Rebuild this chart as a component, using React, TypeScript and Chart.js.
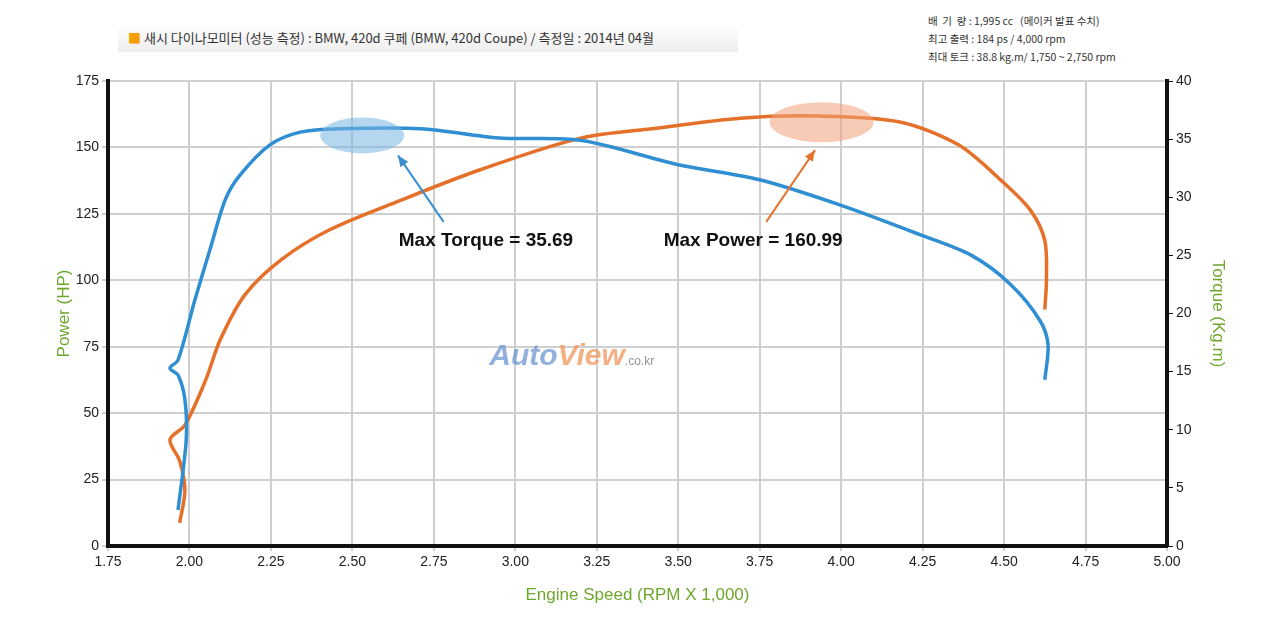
import React, { useEffect, useRef } from "react";
import { Chart, registerables } from "chart.js";
Chart.register(...registerables);

const torqueRpm = [1.965,1.99,1.986,1.965,1.94,1.965,2.017,2.063,2.11,2.155,2.247,2.34,2.46,2.71,2.95,3.2,3.5,3.75,4.0,4.24,4.4,4.52,4.61,4.635,4.625];
const torqueVal = [3.1,9.1,12.6,14.7,15.3,16.0,21.2,25.5,29.8,31.9,34.5,35.6,35.9,35.9,35.1,34.9,32.8,31.5,29.3,26.8,25.0,22.5,19.4,17.3,14.3];
const powerRpm = [1.97,1.986,1.97,1.94,1.986,2.05,2.094,2.17,2.28,2.43,2.646,2.89,3.2,3.44,3.69,3.93,4.18,4.36,4.49,4.58,4.625,4.63,4.625];
const powerVal = [8.7,21,32,40,45.5,62.5,77.5,94.5,107.6,119,130,141.5,153.5,157.3,161,161.8,159.6,151,137.7,126.5,115,100,89];
const headerText = "새시 다이나모미터 (성능 측정)  :  BMW, 420d 쿠페 (BMW, 420d Coupe) / 측정일 : 2014년 04월";
const specLines = ["배  기  량 : 1,995 cc   (메이커 발표 수치)", "최고 출력 : 184 ps / 4,000 rpm", "최대 토크 : 38.8 kg.m/ 1,750 ~ 2,750 rpm"];

const annot = {
  id: "annot",
  afterDatasetsDraw(chart: any) {
    const { ctx, scales } = chart;
    const X = (v: number) => scales.x.getPixelForValue(v);
    const Y = (v: number) => scales.y.getPixelForValue(v);
    ctx.save();
    ctx.font = "italic bold 30px Arial";
    ctx.textBaseline = "alphabetic";
    ctx.fillStyle = "rgba(110,150,210,0.75)";
    ctx.fillText("Auto", X(2.92), Y(68));
    const w = ctx.measureText("Auto").width;
    ctx.fillStyle = "rgba(240,150,90,0.75)";
    ctx.fillText("View", X(2.92) + w, Y(68));
    const w2 = ctx.measureText("View").width;
    ctx.font = "12px Arial";
    ctx.fillStyle = "rgba(120,120,120,0.8)";
    ctx.fillText(".co.kr", X(2.92) + w + w2, Y(68));
    ctx.fillStyle = "rgba(120,180,225,0.55)";
    ctx.beginPath(); ctx.ellipse(X(2.53), Y(154.5), 42, 18, 0, 0, Math.PI * 2); ctx.fill();
    ctx.fillStyle = "rgba(240,160,120,0.55)";
    ctx.beginPath(); ctx.ellipse(X(3.94), Y(159.5), 52, 20, 0, 0, Math.PI * 2); ctx.fill();
    const arrow = (x1: number, y1: number, x2: number, y2: number, c: string) => {
      ctx.strokeStyle = c; ctx.fillStyle = c; ctx.lineWidth = 2;
      ctx.beginPath(); ctx.moveTo(x1, y1); ctx.lineTo(x2, y2); ctx.stroke();
      const a = Math.atan2(y2 - y1, x2 - x1);
      ctx.beginPath(); ctx.moveTo(x2, y2);
      ctx.lineTo(x2 - 12 * Math.cos(a - 0.4), y2 - 12 * Math.sin(a - 0.4));
      ctx.lineTo(x2 - 12 * Math.cos(a + 0.4), y2 - 12 * Math.sin(a + 0.4));
      ctx.closePath(); ctx.fill();
    };
    arrow(X(2.78), Y(122), X(2.64), Y(147), "#3a8fd0");
    arrow(X(3.77), Y(122), X(3.92), Y(149), "#e5742e");
    ctx.font = "bold 19px Arial";
    ctx.fillStyle = "#111";
    ctx.textAlign = "center"; ctx.textBaseline = "middle";
    ctx.fillText("Max Torque = 35.69", X(2.91), Y(115));
    ctx.fillText("Max Power = 160.99", X(3.73), Y(115));
    ctx.restore();
  },
};

export default function App() {
  const ref = useRef<HTMLCanvasElement>(null);
  useEffect(() => {
    const tickFont = { family: "Arial", size: 14 };
    const titleFont = { family: "Arial", size: 17 };
    const chart = new Chart(ref.current!, {
      type: "line",
      data: {
        datasets: [
          { label: "Torque", data: torqueRpm.map((x, i) => ({ x, y: torqueVal[i] })), yAxisID: "y1", borderColor: "#2f8fd2", borderWidth: 3.5, pointRadius: 0, tension: 0.3 },
          { label: "Power", data: powerRpm.map((x, i) => ({ x, y: powerVal[i] })), yAxisID: "y", borderColor: "#e5702a", borderWidth: 3.5, pointRadius: 0, tension: 0.3 },
        ],
      },
      plugins: [annot],
      options: {
        animation: false, responsive: true, maintainAspectRatio: false,
        layout: { padding: { top: 81, left: 0, right: 0, bottom: 0 } },
        plugins: { legend: { display: false }, tooltip: { enabled: false } },
        scales: {
          x: {
            type: "linear", min: 1.75, max: 5, afterFit: (s: any) => { s.height = 75; },
            ticks: { stepSize: 0.25, color: "#222", font: tickFont, callback: (v: any) => Number(v).toFixed(2) },
            grid: { color: "#cfcfcf", lineWidth: 2, drawTicks: true, tickLength: 5 },
            border: { color: "#111", width: 4 },
            title: { display: true, text: "Engine Speed (RPM X 1,000)", color: "#6ea72c", font: titleFont, padding: { top: 0, bottom: 15 } },
          },
          y: {
            position: "left", min: 0, max: 175, afterFit: (s: any) => { s.width = 108; },
            ticks: { stepSize: 25, color: "#222", font: tickFont },
            grid: { color: "#cfcfcf", lineWidth: 2, tickLength: 6 },
            border: { color: "#111", width: 4 },
            title: { display: true, text: "Power (HP)", color: "#6ea72c", font: titleFont, padding: { top: 54, bottom: 0 } },
          },
          y1: {
            position: "right", min: 0, max: 40, afterFit: (s: any) => { s.width = 113; },
            ticks: { stepSize: 5, color: "#222", font: tickFont },
            grid: { drawOnChartArea: false, tickLength: 6, color: "#111" },
            border: { color: "#111", width: 4 },
            title: { display: true, text: "Torque (Kg.m)", color: "#6ea72c", font: titleFont, padding: { top: 52, bottom: 0 } },
          },
        },
      } as any,
    });
    return () => chart.destroy();
  }, []);
  return (
    <div style={{ position: "absolute", left: 0, top: 0, width: 1280, height: 621, background: "#fff", fontFamily: "'Noto Sans CJK KR', Arial" }}>
      <div style={{ position: "absolute", left: 118, top: 24, width: 620, height: 28, background: "linear-gradient(#fff,#eee)", fontSize: 13, lineHeight: "28px", color: "#333", paddingLeft: 10, boxSizing: "border-box", whiteSpace: "nowrap" }}>
        <span style={{ color: "#f5a000" }}>■ </span>{headerText}
      </div>
      <div style={{ position: "absolute", left: 928, top: 12, fontSize: 10.5, lineHeight: "18px", color: "#333", whiteSpace: "pre" }}>
        {specLines.map((l, i) => <div key={i}>{l}</div>)}
      </div>
      <canvas ref={ref} style={{ position: "absolute", left: 0, top: 0 }} />
    </div>
  );
}
